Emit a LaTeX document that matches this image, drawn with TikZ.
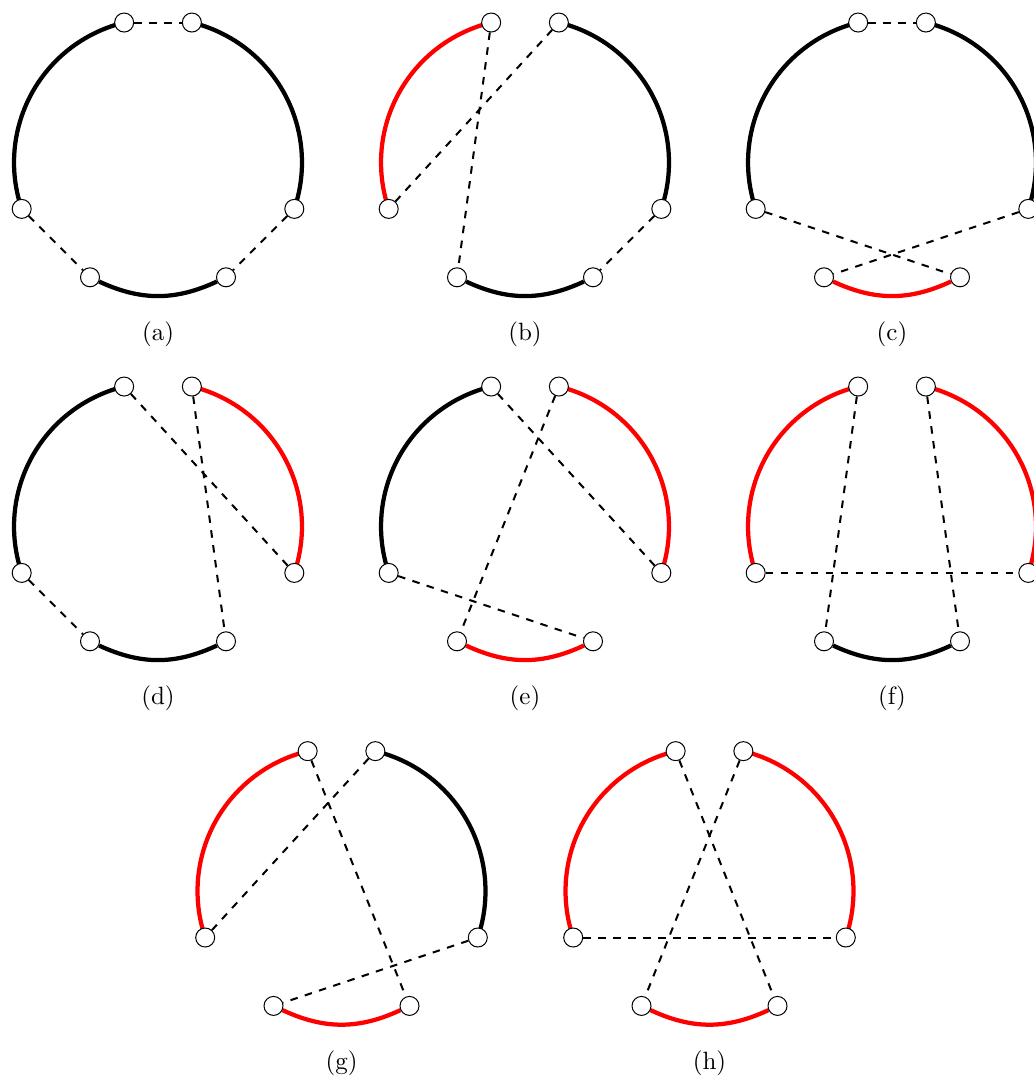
\documentclass[tikz,border=0pt]{standalone}
\usetikzlibrary{backgrounds}
\tikzset{
  vtx/.style={circle,draw,fill=white,line width=0.4pt,inner sep=0pt,minimum size=7.6pt},
  sidearc/.style={line width=1.7pt},
  botarc/.style={line width=1.7pt},
  redc/.style={red},
  dsh/.style={thick,dashed},
  lbl/.style={inner sep=0pt}
}
% #1 prefix, #2 #3 offset of the panel, #4 label
\newcommand\sixnodes[4]{%
  \begin{scope}[shift={(158+#2,162.5+#3)}]
    \node[vtx] (#1TL) at (256.4:144) {};
    \node[vtx] (#1TR) at (283.6:144) {};
    \node[vtx] (#1L) at (161.2:144) {};
    \node[vtx] (#1R) at (18.8:144) {};
    \node[vtx] (#1BL) at (-68,114.8) {};
    \node[vtx] (#1BR) at (68,114.8) {};
    \node[lbl] (#1lab) at (0,172) {#4};
  \end{scope}}
% #1 prefix, #2 style of left arc, #3 style of right arc, #4 style of bottom arc
\newcommand\threearcs[4]{%
  \draw[sidearc,#2] (#1TL.center) arc[start angle=256.4,end angle=161.2,radius=144];
  \draw[sidearc,#3] (#1TR.center) arc[start angle=283.6,end angle=378.8,radius=144];
  \draw[botarc,#4] (#1BL) to[bend right=25] (#1BR);}
\begin{document}
\begin{tikzpicture}[x=0.4pt,y=-0.4pt]
\useasboundingbox (0,0) rectangle (1033,1077);
\sixnodes{a}{0}{0}{(a)}
\sixnodes{b}{367}{0}{(b)}
\sixnodes{c}{734}{0}{(c)}
\sixnodes{d}{0}{364}{(d)}
\sixnodes{e}{367}{364}{(e)}
\sixnodes{f}{734}{364}{(f)}
\sixnodes{g}{183.5}{728.6}{(g)}
\sixnodes{h}{551.5}{728.6}{(h)}
\begin{pgfonlayer}{background}
% (a)
\threearcs{a}{}{}{}
\draw[dsh] (aTL) -- (aTR);
\draw[dsh] (aL) -- (aBL);
\draw[dsh] (aR) -- (aBR);
% (b)
\threearcs{b}{redc}{}{}
\draw[dsh] (bTL) -- (bBL);
\draw[dsh] (bTR) -- (bL);
\draw[dsh] (bR) -- (bBR);
% (c)
\threearcs{c}{}{}{redc}
\draw[dsh] (cTL) -- (cTR);
\draw[dsh] (cL) -- (cBR);
\draw[dsh] (cR) -- (cBL);
% (d)
\threearcs{d}{}{redc}{}
\draw[dsh] (dTL) -- (dR);
\draw[dsh] (dTR) -- (dBR);
\draw[dsh] (dL) -- (dBL);
% (e)
\threearcs{e}{}{redc}{redc}
\draw[dsh] (eTL) -- (eR);
\draw[dsh] (eTR) -- (eBL);
\draw[dsh] (eL) -- (eBR);
% (f)
\threearcs{f}{redc}{redc}{}
\draw[dsh] (fTL) -- (fBL);
\draw[dsh] (fTR) -- (fBR);
\draw[dsh] (fL) -- (fR);
% (g)
\threearcs{g}{redc}{}{redc}
\draw[dsh] (gTL) -- (gBR);
\draw[dsh] (gTR) -- (gL);
\draw[dsh] (gR) -- (gBL);
% (h)
\threearcs{h}{redc}{redc}{redc}
\draw[dsh] (hTL) -- (hBR);
\draw[dsh] (hTR) -- (hBL);
\draw[dsh] (hL) -- (hR);
\end{pgfonlayer}
\end{tikzpicture}
\end{document}
